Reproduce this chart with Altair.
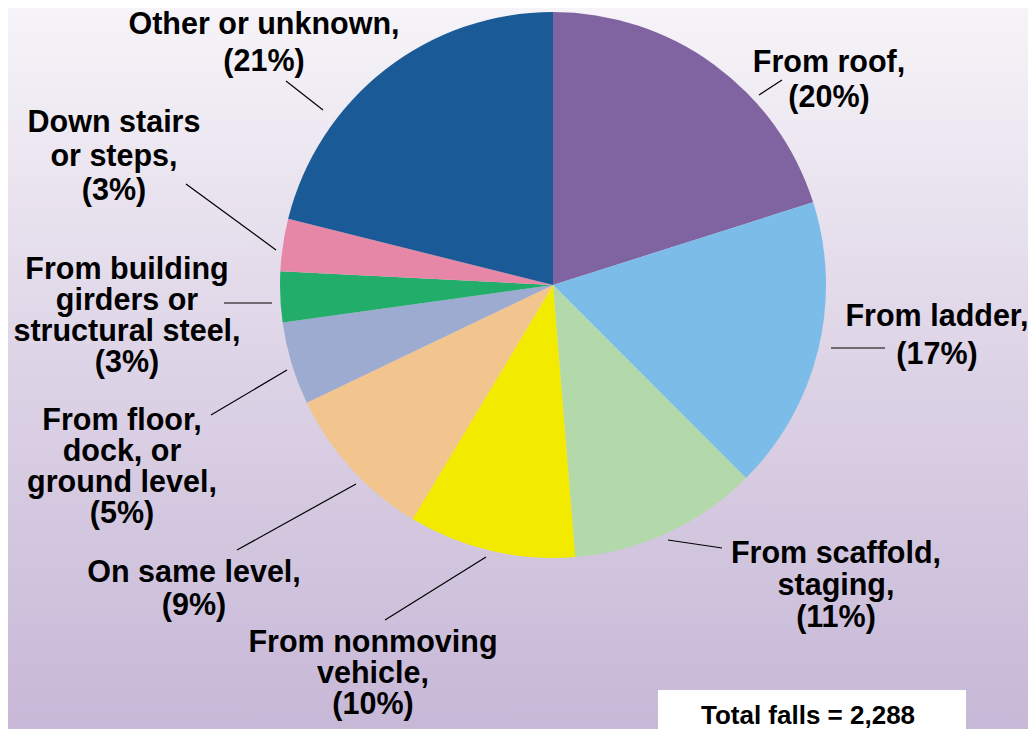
import altair as alt
import pandas as pd

# ---------------- data ----------------
categories = [
    "From roof",
    "From ladder",
    "From scaffold, staging",
    "From nonmoving vehicle",
    "On same level",
    "From floor, dock, or ground level",
    "From building girders or structural steel",
    "Down stairs or steps",
    "Other or unknown",
]
shares = [20.1, 17.4, 11.2, 9.9, 9.3, 4.9, 3.0, 3.1, 21.1]
label_pct = [20, 17, 11, 10, 9, 5, 3, 3, 21]
label_lines = [
    ["From roof,"],
    ["From ladder,"],
    ["From scaffold,", "staging,"],
    ["From nonmoving", "vehicle,"],
    ["On same level,"],
    ["From floor,", "dock, or", "ground level,"],
    ["From building", "girders or", "structural steel,"],
    ["Down stairs", "or steps,"],
    ["Other or unknown,"],
]
colors = ["#8064A2", "#7BBDE8", "#B3D9AB", "#F2EB00", "#F2C48E",
          "#9DABD0", "#22AD6B", "#E687A8", "#1A5A96"]
total_text = "Total falls = 2,288"

# ---------------- layout (page pixels) ----------------
W, H = 1020, 721
OFF = 8
CX, CY, R = 553 - OFF, 285 - OFF, 273
FONT = "Liberation Sans"
# (center x, first baseline y, line spacing)
label_anchor = [
    (829, 72, 35), (937, 326, 38), (836, 563, 32), (373, 652, 31),
    (194, 582, 33), (122, 430, 31), (127, 279, 31), (114, 132, 34),
    (264, 34, 37),
]
leaders = [
    ((759, 95), (782, 80)),
    ((831, 348), (885, 348)),
    ((668, 540), (722, 548)),
    ((385, 620), (486, 557)),
    ((237, 550), (356, 484)),
    ((211, 415), (287, 370)),
    ((224, 303), (272, 303)),
    ((186, 184), (276, 250)),
    ((286, 81), (323, 110)),
]
box = (658, 690, 966, 745)
total_anchor = (808, 724)

# ---------------- tables ----------------
pie_df = pd.DataFrame({"category": categories, "share": shares,
                       "idx": list(range(len(categories)))})

rows = []
for lines, pct, (cx, y1, sp) in zip(label_lines, label_pct, label_anchor):
    all_lines = lines + [f"({pct}%)"]
    for k, t in enumerate(all_lines):
        rows.append({"t": t, "x": cx - OFF, "y": y1 + k * sp - OFF})
text_df = pd.DataFrame(rows)

lead_df = pd.DataFrame([{"x": a[0] - OFF, "y": a[1] - OFF,
                         "x2": b[0] - OFF, "y2": b[1] - OFF} for a, b in leaders])

one = pd.DataFrame({"a": [0]})

bg = alt.Chart(one).mark_rect(
    color=alt.Gradient(
        gradient="linear",
        stops=[alt.GradientStop(color="#F6F4F8", offset=0),
               alt.GradientStop(color="#DDD3E6", offset=0.5),
               alt.GradientStop(color="#C7B8D7", offset=1)],
        x1=0, x2=0, y1=0, y2=1,
    )
).encode(x=alt.value(0), x2=alt.value(W), y=alt.value(0), y2=alt.value(H))

pie = alt.Chart(pie_df).mark_arc(radius=R).encode(
    theta=alt.Theta("share:Q", stack=True),
    color=alt.Color("category:N", scale=alt.Scale(domain=categories, range=colors), legend=None),
    order=alt.Order("idx:Q", sort="ascending"),
    x=alt.value(CX), y=alt.value(CY),
)

lead = alt.Chart(lead_df).mark_rule(color="black", strokeWidth=1.2).encode(
    x=alt.X("x:Q", scale=None, axis=None),
    y=alt.Y("y:Q", scale=None, axis=None),
    x2="x2:Q", y2="y2:Q",
)

labels = alt.Chart(text_df).mark_text(
    font=FONT, fontWeight="bold", fontSize=30.5, align="center",
    baseline="alphabetic", color="black",
).encode(
    x=alt.X("x:Q", scale=None, axis=None),
    y=alt.Y("y:Q", scale=None, axis=None),
    text="t:N",
)

box_layer = alt.Chart(one).mark_rect(color="white").encode(
    x=alt.value(box[0] - OFF), x2=alt.value(box[2] - OFF),
    y=alt.value(box[1] - OFF), y2=alt.value(box[3] - OFF),
)
total = alt.Chart(one).mark_text(
    font=FONT, fontWeight="bold", fontSize=26, align="center",
    baseline="alphabetic", color="black", text=total_text,
).encode(x=alt.value(total_anchor[0] - OFF), y=alt.value(total_anchor[1] - OFF))

chart = alt.layer(bg, pie, lead, labels, box_layer, total).properties(
    width=W, height=H, padding=0,
    autosize=alt.AutoSizeParams(type="none"),
).configure_view(stroke=None).configure(background="#F6F4F8")

chart.save("out.html", embed_options={"renderer": "svg", "actions": False})
